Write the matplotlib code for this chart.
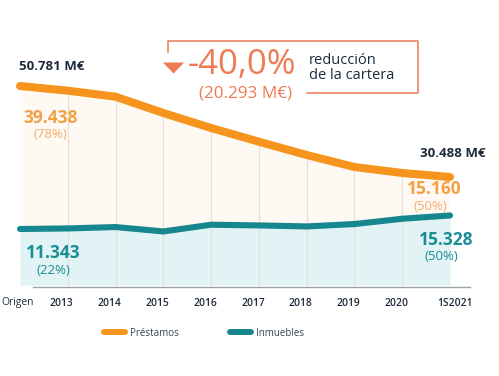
import matplotlib
matplotlib.use("Agg")
import matplotlib.pyplot as plt
from matplotlib.lines import Line2D
from matplotlib.patches import Polygon

# ---- data (thousand M€, as drawn in the picture) ----
categories = ["Origen", "2013", "2014", "2015", "2016", "2017", "2018", "2019", "2020", "1S2021"]
total_vals = [50.78, 49.49, 47.83, 43.34, 39.20, 35.42, 31.75, 28.44, 26.79, 25.68]
inmuebles_vals = [11.34, 11.50, 11.88, 10.67, 12.52, 12.33, 12.05, 12.71, 14.17, 15.08]
series_names = ["Préstamos", "Inmuebles"]
total_start_label = "50.781 M€"
total_end_label = "30.488 M€"
prest_start = ("39.438", "(78%)")
prest_end = ("15.160", "(50%)")
inm_start = ("11.343", "(22%)")
inm_end = ("15.328", "(50%)")
headline = "-40,0%"
headline_sub = "(20.293 M€)"
headline_text = "reducción\nde la cartera"

# ---- styles ----
ORANGE = "#F7941E"
ORANGE_FILL = "#FEF9F2"
ORANGE_TXT = "#F5A044"
ORANGE_TXT2 = "#F2AE6E"
TEAL = "#16878F"
TEAL_FILL = "#E2F3F5"
TEAL_TXT = "#1A8D95"
RED = "#EE7B55"
NAVY = "#1D2B3B"
GRID = "#E4E0DA"

plt.rcParams["font.family"] = ["Open Sans", "DejaVu Sans"]

W, H = 499, 376
fig = plt.figure(figsize=(W / 100, H / 100), dpi=100)
ax = fig.add_axes([0, 0, 1, 1])
ax.set_axis_off()

n = len(categories)
xs = list(range(n))
step = (450 - 20) / (n - 1)
ax.set_xlim(-20 / step, (W - 20) / step)
scale = 3.626  # px per unit
ax.set_ylim(total_vals[0] - (H - 86) / scale, total_vals[0] + 86 / scale)

base = total_vals[0] - (285 - 86) / scale
axis_y = total_vals[0] - (287 - 86) / scale

def fp(x, y):
    return (x / W, 1 - y / H)

# fills
ax.fill_between(xs, inmuebles_vals, total_vals, color=ORANGE_FILL, lw=0, zorder=1)
ax.fill_between(xs, base, inmuebles_vals, color=TEAL_FILL, lw=0, zorder=1)

# vertical grid lines
for i in xs[1:-1]:
    ax.plot([i, i], [base, total_vals[i]], color=GRID, lw=0.9, zorder=2)

# baseline
ax.plot([(33 - 20) / step, (470 - 20) / step], [axis_y, axis_y], color="#9AA3A8", lw=1.0, zorder=2)

# lines
ax.plot(xs, total_vals, color=ORANGE, lw=5.8, solid_capstyle="round", solid_joinstyle="round", zorder=4)
ax.plot(xs, inmuebles_vals, color=TEAL, lw=4.4, solid_capstyle="round", solid_joinstyle="round", zorder=4)

# category labels (pixel nudges)
label_nudge = [-2] + [-6] * (n - 2) + [5]
for i, c in enumerate(categories):
    fw = "medium" if i == 0 else "semibold"
    ax.text(i + label_nudge[i] / step, total_vals[0] - (303 - 86) / scale, c, ha="center", va="center",
            fontsize=7.4, color=NAVY, fontweight=fw, zorder=5)

# value labels
def t(x, y, s, **kw):
    fig.text(*fp(x, y), s, **kw)

t(52, 67, total_start_label, ha="center", va="center", fontsize=9.5, fontweight="bold", color=NAVY)
t(453, 154, total_end_label, ha="center", va="center", fontsize=9.5, fontweight="bold", color=NAVY)
t(51, 118, prest_start[0], ha="center", va="center", fontsize=12.5, fontweight="bold", color=ORANGE_TXT)
t(50, 134, prest_start[1], ha="center", va="center", fontsize=9.5, color=ORANGE_TXT2)
t(434, 189, prest_end[0], ha="center", va="center", fontsize=12.5, fontweight="bold", color=ORANGE_TXT)
t(430, 207, prest_end[1], ha="center", va="center", fontsize=9.5, color=ORANGE_TXT2)
t(53, 253, inm_start[0], ha="center", va="center", fontsize=12.5, fontweight="bold", color=TEAL_TXT)
t(53, 270, inm_start[1], ha="center", va="center", fontsize=9.5, color=TEAL_TXT)
t(446, 240, inm_end[0], ha="center", va="center", fontsize=12.5, fontweight="bold", color=TEAL_TXT)
t(441, 256, inm_end[1], ha="center", va="center", fontsize=9.5, color=TEAL_TXT)

# headline box
def fl(pts, **kw):
    xsf = [p[0] / W for p in pts]
    ysf = [1 - p[1] / H for p in pts]
    fig.add_artist(Line2D(xsf, ysf, transform=fig.transFigure, **kw))

fl([(168, 52), (168, 40.5), (418, 40.5), (418, 93), (307, 93)], color=RED, lw=1.1)
fig.add_artist(Polygon([fp(163, 62.5), fp(184, 62.5), fp(173.5, 73.5)], closed=True,
                       transform=fig.transFigure, color=RED, lw=0))
t(188, 73.5, headline, ha="left", va="baseline", fontsize=25, fontweight="medium", color=RED)
t(246, 94, headline_sub, ha="center", va="center", fontsize=12.3, color=RED)
t(309, 68, headline_text, ha="left", va="center", fontsize=10.5, color=NAVY, linespacing=0.95)

# legend
handles = [Line2D([], [], color=ORANGE, lw=4.3, solid_capstyle="round"),
           Line2D([], [], color=TEAL, lw=4.3, solid_capstyle="round")]
leg = fig.legend(handles, series_names, loc="center", bbox_to_anchor=fp(204, 333), ncol=2,
                 frameon=False, fontsize=7, handlelength=2.2, handletextpad=0.5,
                 columnspacing=5.2, borderpad=0)
for tx in leg.get_texts():
    tx.set_color("#3A4452")

fig.savefig("out.png", dpi=100)
